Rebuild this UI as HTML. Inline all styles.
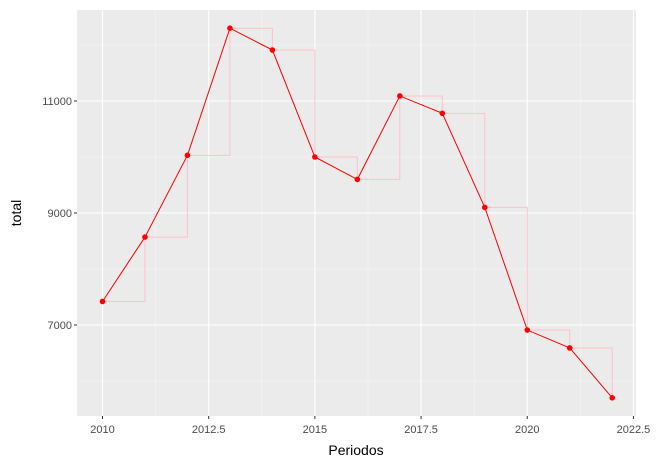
<!DOCTYPE html>
<html><head><meta charset="utf-8"><style>
html,body{margin:0;padding:0;background:#fff;}
svg{display:block;font-family:"Liberation Sans","DejaVu Sans",sans-serif;}
</style></head><body>
<svg id="chart" width="664" height="468">
<rect x="77" y="10" width="559" height="406" fill="#ebebeb"/>
<g id="grid"></g><g id="marks"></g><g id="axes"></g>
<text x="356" y="455" text-anchor="middle" font-size="14" fill="#000">Periodos</text>
<text transform="translate(21,213) rotate(-90)" text-anchor="middle" font-size="14" fill="#000">total</text>
</svg>
<script>
const years = [2010,2011,2012,2013,2014,2015,2016,2017,2018,2019,2020,2021,2022];
const totals = [7420,8570,10030,12300,11910,10000,9600,11090,10780,9100,6910,6590,5700];
const xTicks = [2010,2012.5,2015,2017.5,2020,2022.5];
const xTickLabels = ["2010","2012.5","2015","2017.5","2020","2022.5"];
const yTicks = [7000,9000,11000];
const yTickLabels = ["7000","9000","11000"];
const NS="http://www.w3.org/2000/svg";
const L=77,R=636,T=10,B=416;
const x0=2009.4,x1=2022.56,y0=5375,y1=12625;
function xs(v){return L+(v-x0)/(x1-x0)*(R-L);}
function ys(v){return B-(v-y0)/(y1-y0)*(B-T);}
function mk(tag,attrs,parent){const e=document.createElementNS(NS,tag);for(const k in attrs)e.setAttribute(k,attrs[k]);parent.appendChild(e);return e;}
const grid=document.getElementById('grid'),marks=document.getElementById('marks'),axes=document.getElementById('axes');
// minor grid
for(let i=0;i<xTicks.length-1;i++){const v=(xTicks[i]+xTicks[i+1])/2;const g=mk('line',{x1:xs(v),x2:xs(v),y1:T,y2:B,stroke:'#f5f5f5','stroke-width':0.6},grid);

}
for(let i=0;i<yTicks.length;i++){[yTicks[i]-1000].concat(i==yTicks.length-1?[yTicks[i]+1000]:[]).forEach(v=>{const g=mk('line',{x1:L,x2:R,y1:ys(v),y2:ys(v),stroke:'#f5f5f5','stroke-width':0.6},grid);

});}
xTicks.forEach((v,i)=>{const g=mk('line',{x1:xs(v),x2:xs(v),y1:T,y2:B,stroke:'#fff','stroke-width':1.1},grid);


mk('line',{x1:xs(v),x2:xs(v),y1:B,y2:B+3,stroke:'#333'},axes);
const t=mk('text',{x:xs(v),y:B+17,'text-anchor':'middle','font-size':11,fill:'#4d4d4d'},axes);t.textContent=xTickLabels[i];

});
yTicks.forEach((v,i)=>{const g=mk('line',{x1:L,x2:R,y1:ys(v),y2:ys(v),stroke:'#fff','stroke-width':1.1},grid);


mk('line',{x1:L-3,x2:L,y1:ys(v),y2:ys(v),stroke:'#333'},axes);
const t=mk('text',{x:L-5,y:ys(v)+4,'text-anchor':'end','font-size':11,fill:'#4d4d4d'},axes);t.textContent=yTickLabels[i];

});
// step line
let d='M'+xs(years[0])+','+ys(totals[0]);
for(let i=1;i<years.length;i++){d+=' H'+xs(years[i])+' V'+ys(totals[i]);}
const st=mk('path',{d:d,fill:'none',stroke:'#ffc0cb','stroke-width':1},marks);


const ln=mk('polyline',{points:years.map((y,i)=>xs(y)+','+ys(totals[i])).join(' '),fill:'none',stroke:'#ff0000','stroke-width':1},marks);


years.forEach((y,i)=>{const c=mk('circle',{cx:xs(y),cy:ys(totals[i]),r:2.8,fill:'#ff0000'},marks);

});
</script>
</body></html>
